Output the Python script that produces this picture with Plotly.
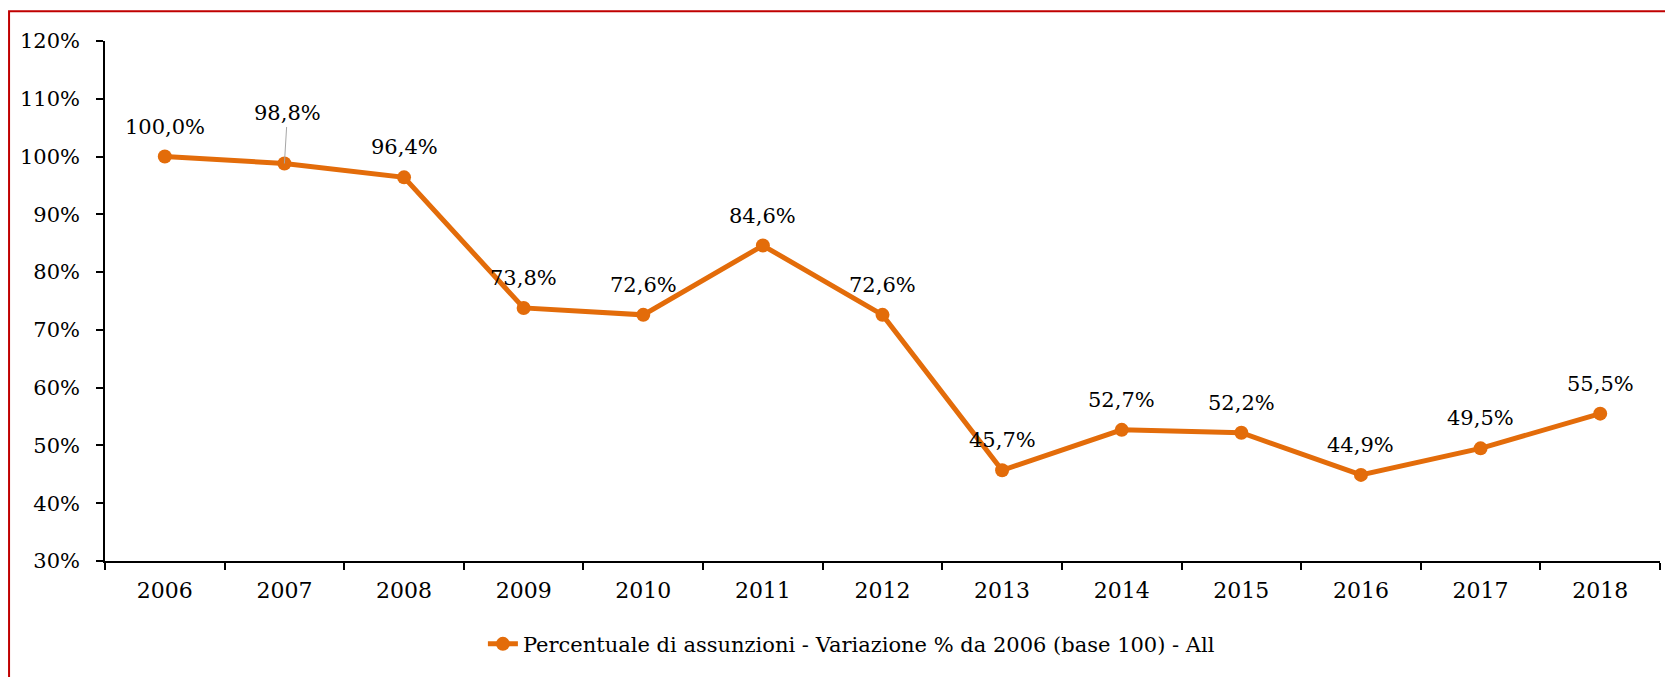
import plotly.graph_objects as go

years = ["2006", "2007", "2008", "2009", "2010", "2011", "2012",
         "2013", "2014", "2015", "2016", "2017", "2018"]
values = [100.0, 98.8, 96.4, 73.8, 72.6, 84.6, 72.6, 45.7, 52.7, 52.2, 44.9, 49.5, 55.5]
series_name = "Percentuale di assunzioni - Variazione % da 2006 (base 100) - All"
y_ticks = [30, 40, 50, 60, 70, 80, 90, 100, 110, 120]
y_tick_labels = [f"{t}%" for t in y_ticks]

FONT = "DejaVu Serif"
ORANGE = "#E36C0A"

fig = go.Figure()
fig.add_trace(go.Scatter(
    x=years, y=values, mode="lines+markers", name=series_name,
    line=dict(color=ORANGE, width=5),
    marker=dict(color=ORANGE, size=14),
    showlegend=True,
))

labels = [f"{v:.1f}".replace(".", ",") + "%" for v in values]
for i, (v, t) in enumerate(zip(values, labels)):
    if i == 1:
        fig.add_annotation(x=i, y=v, text=t, showarrow=True, ax=3, ay=-50,
                           arrowhead=0, arrowwidth=1, arrowcolor="#A6A6A6",
                           standoff=0, font=dict(family=FONT, size=21, color="#000"))
    else:
        fig.add_annotation(x=i, y=v, text=t, showarrow=False, yshift=30,
                           font=dict(family=FONT, size=21, color="#000"))

fig.add_shape(type="rect", xref="paper", yref="paper",
              x0=-0.0617, y0=-0.6, x1=1.2, y1=1.0574,
              line=dict(color="#C00000", width=2), fillcolor="rgba(0,0,0,0)", layer="below")

fig.update_layout(
    width=1665, height=669,
    margin=dict(l=97, r=13, t=33, b=112),
    plot_bgcolor="white", paper_bgcolor="white",
    font=dict(family=FONT, size=21, color="#000"),
    legend=dict(orientation="h", x=0.48, xanchor="center", y=-0.16, yanchor="middle",
                font=dict(family=FONT, size=21, color="#000")),
    xaxis=dict(type="category", range=[-0.5, len(years) - 0.5], tickson="boundaries",
               ticks="outside", ticklen=7, tickangle=0, ticklabelstandoff=9,
               tickwidth=1.5, tickcolor="#000", showline=True, linecolor="#000",
               linewidth=1.5, showgrid=False, tickfont=dict(family=FONT, size=22)),
    yaxis=dict(range=[30, 120], tickmode="array", tickvals=y_ticks, ticktext=y_tick_labels,
               ticks="outside", ticklen=7, tickwidth=1.5, tickcolor="#000", showline=True,
               ticklabelstandoff=12,
               linecolor="#000", linewidth=1.5, showgrid=False, zeroline=False,
               tickfont=dict(family=FONT, size=21)),
)

fig.write_html("out.html")
